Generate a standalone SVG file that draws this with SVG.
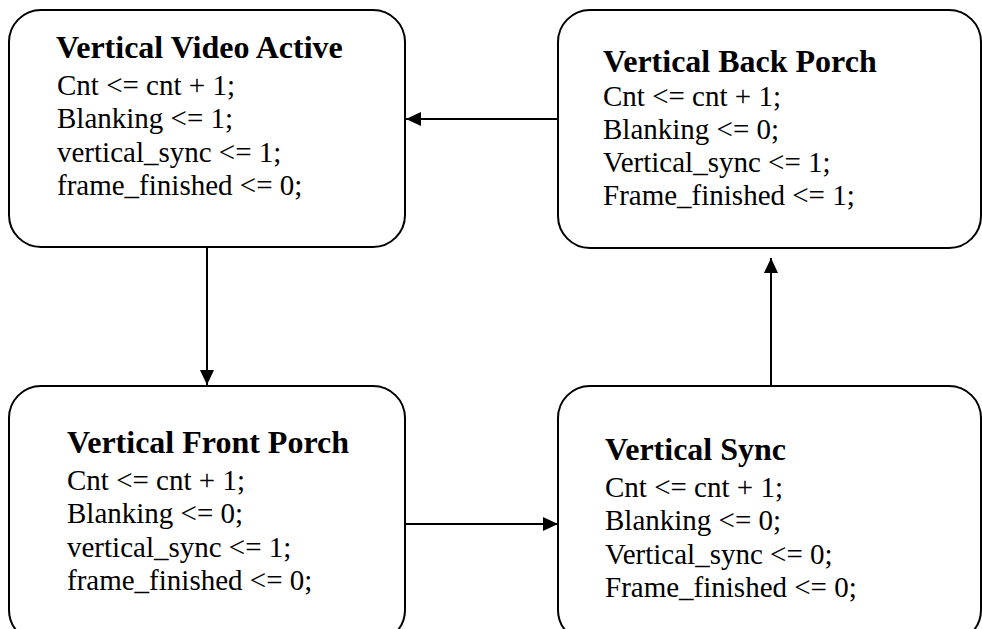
<svg xmlns="http://www.w3.org/2000/svg" width="982" height="629" viewBox="0 0 982 629">
  <style>
    .box { fill: #ffffff; stroke: #000000; stroke-width: 2; }
    .title { font-family: "Liberation Serif", "Times New Roman", serif; font-weight: bold; font-size: 32px; fill: #000000; }
    .body { font-family: "Liberation Serif", "Times New Roman", serif; font-size: 29px; fill: #000000; }
    .edge { fill: none; stroke: #000000; stroke-width: 2; marker-end: url(#arrow); }
  </style>
  <defs>
    <marker id="arrow" markerUnits="userSpaceOnUse" markerWidth="16" markerHeight="16" viewBox="0 0 16 16" refX="15" refY="8" orient="auto">
      <path d="M0,1 L15,8 L0,15 Z" fill="#000000"/>
    </marker>
  </defs>
  <rect width="982" height="629" fill="#ffffff"/>

  <g id="connectors">
    <line class="edge" x1="558" y1="119" x2="406" y2="119"/>
    <line class="edge" x1="207" y1="247" x2="207" y2="385"/>
    <line class="edge" x1="405" y1="524" x2="558" y2="524"/>
    <line class="edge" x1="771" y1="386" x2="771" y2="258"/>
  </g>

  <g id="vertical-video-active">
    <rect class="box" x="9" y="10" width="396" height="237" rx="32" ry="32"/>
    <text class="title" x="56" y="58">Vertical Video Active</text>
    <text class="body" x="57" y="95">Cnt &lt;= cnt + 1;</text>
    <text class="body" x="57" y="128">Blanking &lt;= 1;</text>
    <text class="body" x="57" y="162">vertical_sync &lt;= 1;</text>
    <text class="body" x="57" y="195">frame_finished &lt;= 0;</text>
  </g>

  <g id="vertical-back-porch">
    <rect class="box" x="558" y="10" width="423" height="238" rx="32" ry="32"/>
    <text class="title" x="603" y="72">Vertical Back Porch</text>
    <text class="body" x="603" y="106">Cnt &lt;= cnt + 1;</text>
    <text class="body" x="603" y="139">Blanking &lt;= 0;</text>
    <text class="body" x="603" y="172">Vertical_sync &lt;= 1;</text>
    <text class="body" x="603" y="205">Frame_finished &lt;= 1;</text>
  </g>

  <g id="vertical-front-porch">
    <rect class="box" x="9" y="386" width="396" height="256" rx="32" ry="32"/>
    <text class="title" x="67" y="453">Vertical Front Porch</text>
    <text class="body" x="67" y="490">Cnt &lt;= cnt + 1;</text>
    <text class="body" x="67" y="523">Blanking &lt;= 0;</text>
    <text class="body" x="67" y="557">vertical_sync &lt;= 1;</text>
    <text class="body" x="67" y="590">frame_finished &lt;= 0;</text>
  </g>

  <g id="vertical-sync">
    <rect class="box" x="558" y="386" width="423" height="256" rx="32" ry="32"/>
    <text class="title" x="605" y="460">Vertical Sync</text>
    <text class="body" x="605" y="497">Cnt &lt;= cnt + 1;</text>
    <text class="body" x="605" y="530">Blanking &lt;= 0;</text>
    <text class="body" x="605" y="564">Vertical_sync &lt;= 0;</text>
    <text class="body" x="605" y="597">Frame_finished &lt;= 0;</text>
  </g>
</svg>
